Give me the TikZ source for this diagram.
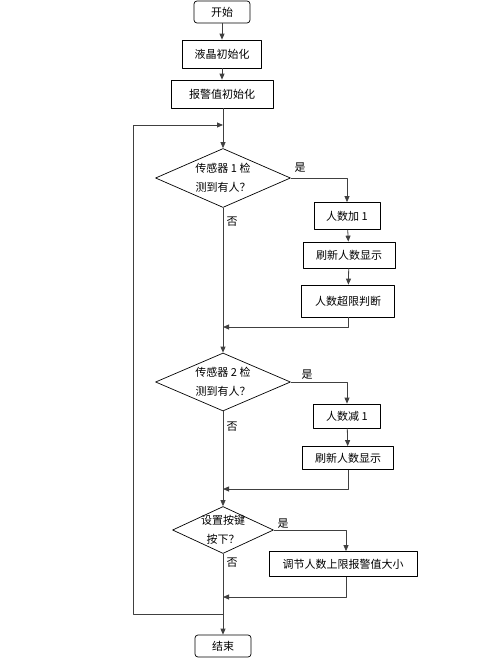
\documentclass[tikz,border=0pt]{standalone}
\usepackage{fontspec}
\newfontfamily\cjk{Noto Sans CJK SC}
\usetikzlibrary{arrows.meta,shapes.geometric}

\begin{document}
\begin{tikzpicture}[x=1pt,y=-1pt,line join=round,
  font=\cjk\fontsize{11}{19}\selectfont,
  box/.style={draw,black,line width=0.7pt,inner sep=2pt,minimum height=27pt},
  term/.style={box,rounded corners=3pt,minimum width=56pt,minimum height=22pt},
  dec/.style={draw,black,line width=0.7pt,diamond,aspect=2.3,inner sep=0pt,align=center},
  lbl/.style={inner sep=1pt},
  arr/.style={draw,black!75,line width=0.8pt,-{Triangle[length=6pt,width=5pt]}},
  ln/.style={draw,black!75,line width=0.8pt}]
  \useasboundingbox (0,0) rectangle (491,663);
  % main column
  \node[term] (start) at (222,12) {开始};
  \node[box,minimum width=79pt,minimum height=28pt] (lcd) at (222,54) {液晶初始化};
  \node[box,minimum width=102pt,minimum height=28pt] (alarm) at (222,94) {报警值初始化};
  \node[dec,minimum width=135pt,minimum height=59pt] (d1) at (223,178) {传感器 1 检\\测到有人？};
  \node[dec,minimum width=135pt,minimum height=58pt] (d2) at (223,382) {传感器 2 检\\测到有人？};
  \node[dec,aspect=2.15,inner sep=-2pt,minimum width=101pt,minimum height=47pt] (d3) at (223,530) {设置按键\\按下？};
  \node[term] (stop) at (223,646) {结束};
  % right column
  \node[box,minimum width=66pt,minimum height=27pt] (inc) at (347,216) {人数加 1};
  \node[box,minimum width=92pt,minimum height=26pt] (show1) at (349,255) {刷新人数显示};
  \node[box,minimum width=93pt,minimum height=32pt] (judge) at (348,301) {人数超限判断};
  \node[box,minimum width=67pt,minimum height=24pt] (dec1) at (347,416) {人数减 1};
  \node[box,minimum width=91pt,minimum height=23pt] (show2) at (348,458) {刷新人数显示};
  \node[box,minimum width=148pt,minimum height=25pt] (adj) at (343,564) {调节人数上限报警值大小};
  % labels
  \node[lbl] (y1) at (300,168) {是};
  \node[lbl] (y2) at (307,375) {是};
  \node[lbl] (y3) at (283,524) {是};
  \node[lbl] (n1) at (232,222) {否};
  \node[lbl] (n2) at (232,427) {否};
  \node[lbl] (n3) at (232,563) {否};
  % joins on the main line
  \coordinate (j1) at (223,327); \coordinate (j2) at (223,489);
  \coordinate (j3) at (223,597); \coordinate (lp) at (223,614);
  \coordinate (lt) at (223,125); \coordinate (loopL) at (133,125);
  % connectors
  \draw[arr] (start) -- (lcd);
  \draw[arr] (lcd) -- (alarm);
  \draw[arr] (alarm.south -| d1) -- (d1);
  \draw[arr] (d1.east) -| (inc);
  \draw[arr] (inc) -- (show1);
  \draw[arr] (show1) -- (judge);
  \draw[arr] (judge.south) |- (j1);
  \draw[arr] (d1) -- (d2);
  \draw[arr] (d2.east) -| (dec1);
  \draw[arr] (dec1) -- (show2);
  \draw[arr] (show2.south) |- (j2);
  \draw[arr] (d2) -- (d3);
  \draw[arr] (d3.east) -| (adj.north -| 346,0);
  \draw[arr] (adj.south -| 346,0) |- (j3);
  \draw[arr] (d3) -- (stop);
  \draw[arr] (lp) -| (loopL) -- (lt);
\end{tikzpicture}
\end{document}
